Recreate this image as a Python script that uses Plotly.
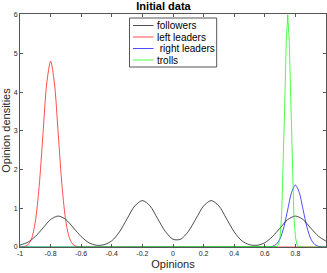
import plotly.graph_objects as go

# followers density (black)
fol_x = [-1.0, -0.95, -0.9, -0.85, -0.8, -0.75, -0.7, -0.65, -0.6, -0.55, -0.5, -0.45,
         -0.4, -0.35, -0.3, -0.25, -0.2, -0.15, -0.1, -0.05, 0.0, 0.05, 0.1, 0.15, 0.2,
         0.25, 0.3, 0.35, 0.4, 0.45, 0.5, 0.55, 0.6, 0.65, 0.7, 0.75, 0.8, 0.85, 0.9, 0.95, 1.0]
fol_y = [0.05, 0.12, 0.27, 0.49, 0.71, 0.80, 0.71, 0.49, 0.27, 0.11, 0.045, 0.06,
         0.16, 0.39, 0.73, 1.06, 1.20, 1.06, 0.73, 0.40, 0.2, 0.2, 0.40, 0.73, 1.06,
         1.20, 1.06, 0.73, 0.39, 0.16, 0.06, 0.045, 0.11, 0.27, 0.49, 0.71, 0.80, 0.71, 0.49, 0.28, 0.15]

# left leaders density (red)
left_x = [-1.0, -0.975, -0.95, -0.925, -0.9, -0.875, -0.85, -0.825, -0.8, -0.775, -0.75,
          -0.725, -0.7, -0.675, -0.65, -0.625, -0.6, -0.5, 0.0, 0.5, 1.0]
left_y = [0.002, 0.011, 0.053, 0.211, 0.649, 1.559, 2.911, 4.236, 4.8, 4.236, 2.911,
          1.559, 0.649, 0.211, 0.053, 0.011, 0.002, 0.0, 0.0, 0.0, 0.0]

# right leaders density (blue)
right_x = [-1.0, 0.0, 0.5, 0.6, 0.625, 0.65, 0.675, 0.7, 0.725, 0.75, 0.775, 0.8,
           0.825, 0.85, 0.875, 0.9, 0.925, 0.95, 0.975, 1.0]
right_y = [0.0, 0.0, 0.0, 0.0005, 0.0035, 0.018, 0.070, 0.216, 0.520, 0.970, 1.412, 1.6,
           1.412, 0.970, 0.520, 0.216, 0.070, 0.018, 0.0035, 0.0005]

# trolls density (green)
troll_x = [-1.0, 0.0, 0.5, 0.65, 0.67, 0.68, 0.69, 0.70, 0.71, 0.72, 0.73, 0.74, 0.75,
           0.76, 0.77, 0.78, 0.79, 0.80, 0.81, 0.82, 0.83, 0.85, 1.0]
troll_y = [0.0, 0.0, 0.0, 0.0, 0.002, 0.013, 0.067, 0.263, 0.812, 1.948, 3.639, 5.295, 6.0,
           5.295, 3.639, 1.948, 0.812, 0.263, 0.067, 0.013, 0.002, 0.0, 0.0]

series_names = ["followers", "left leaders", " right leaders", "trolls"]
series_colors = ["#000000", "#ff0000", "#0000ff", "#00ff00"]

x_ticks = [-1, -0.8, -0.6, -0.4, -0.2, 0, 0.2, 0.4, 0.6, 0.8, 1]
x_tick_labels = ["-1", "-0.8", "-0.6", "-0.4", "-0.2", "0", "0.2", "0.4", "0.6", "0.8", "1"]
y_ticks = [0, 1, 2, 3, 4, 5, 6]

W, H = 327, 273
ML, MR, MT, MB = 20, 1, 14, 26
PW, PH = W - ML - MR, H - MT - MB


def px(xp):
    return (xp - ML) / PW


def py(yp):
    return (H - MB - yp) / PH


fig = go.Figure()
data = [(fol_x, fol_y, "spline"), (left_x, left_y, "spline"),
        (right_x, right_y, "spline"), (troll_x, troll_y, "linear")]
for (xs, ys, shp), nm, col in zip(data, series_names, series_colors):
    line = dict(color=col, width=0.7, shape=shp)
    if shp == "spline":
        line["smoothing"] = 0.8
    fig.add_trace(go.Scatter(x=xs, y=ys, mode="lines", name=nm, line=line, showlegend=False))

# MATLAB-style compact legend box
shapes = [dict(type="rect", xref="paper", yref="paper",
               x0=px(129.5), x1=px(216.7), y0=py(67), y1=py(18),
               line=dict(color="#555555", width=1), fillcolor="white", layer="above")]
annotations = []
entry_y = [25.5, 37, 48.5, 60]
for nm, col, ey in zip(series_names, series_colors, entry_y):
    shapes.append(dict(type="line", xref="paper", yref="paper",
                       x0=px(133), x1=px(153.5), y0=py(ey), y1=py(ey),
                       line=dict(color=col, width=0.7), layer="above"))
    annotations.append(dict(text=nm.replace(" ", "\u00a0"), xref="paper", yref="paper",
                            x=px(155), y=py(ey), xanchor="left", yanchor="middle",
                            showarrow=False,
                            font=dict(family="Liberation Sans", size=10, color="#000000")))

axis_common = dict(showgrid=False, zeroline=False, showline=True, linecolor="#555555",
                   linewidth=1, mirror="allticks", ticks="inside", ticklen=3,
                   tickcolor="#555555", tickfont=dict(family="Liberation Sans", size=7, color="#262626"))

fig.update_layout(
    width=W, height=H,
    margin=dict(l=ML, r=MR, t=MT, b=MB),
    paper_bgcolor="white", plot_bgcolor="white",
    title=dict(text="<b>Initial data</b>", x=px(173), xanchor="center", y=1 - 6.5 / H, yanchor="middle",
               font=dict(family="Liberation Sans", size=11, color="#000000")),
    xaxis=dict(range=[-1, 1], tickvals=x_ticks, ticktext=x_tick_labels,
               title=dict(text="Opinions", standoff=3,
                          font=dict(family="Liberation Sans", size=11, color="#262626")),
               **axis_common),
    yaxis=dict(range=[0, 6.02], tickvals=y_ticks,
               title=dict(text="Opinion densities", standoff=2,
                          font=dict(family="Liberation Sans", size=11, color="#262626")),
               **axis_common),
    shapes=shapes,
    annotations=annotations,
    showlegend=False,
)

fig.write_html("out.html", config={"displayModeBar": False},
               post_script="document.body.style.margin='0px';")
